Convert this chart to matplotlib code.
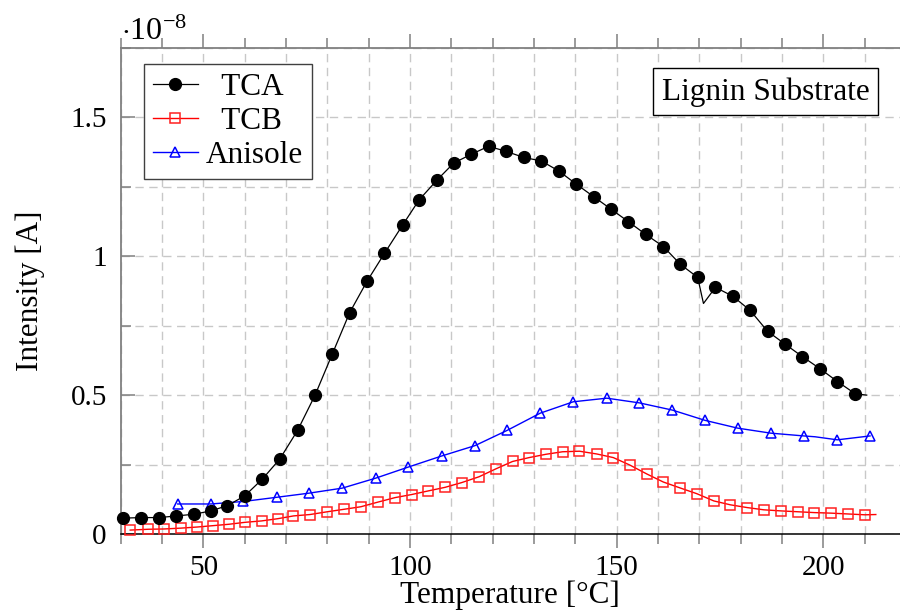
import numpy as np
import matplotlib
matplotlib.use("Agg")
import matplotlib.pyplot as plt
from matplotlib.ticker import MultipleLocator, FuncFormatter

plt.rcParams["font.family"] = ["Liberation Serif", "DejaVu Serif"]
plt.rcParams["mathtext.fontset"] = "custom"
plt.rcParams["mathtext.rm"] = "Liberation Serif"
plt.rcParams["mathtext.it"] = "Liberation Serif:italic"
plt.rcParams["font.size"] = 21

SCALE = 1e-8  # values below are in units of 1e-8 A

# TCA: marked readings, plus a few line-only readings
tca_x = [30.6, 34.9, 39.3, 43.5, 47.7, 51.8, 55.8, 60.0, 64.3, 68.5,
         72.8, 77.0, 81.2, 85.4, 89.6, 93.8, 98.2, 102.2, 106.5, 110.6,
         114.8, 119.0, 123.2, 127.5, 131.8, 136.0, 140.2, 144.4, 148.6, 152.8,
         157.0, 161.3, 165.4, 169.6, 173.9, 178.1, 182.3, 186.5, 190.7, 194.9,
         199.2, 203.4, 207.7]
tca_y = [0.057, 0.059, 0.059, 0.065, 0.071, 0.083, 0.102, 0.137, 0.198, 0.270,
         0.373, 0.499, 0.648, 0.797, 0.910, 1.010, 1.112, 1.203, 1.274, 1.336,
         1.367, 1.396, 1.378, 1.356, 1.343, 1.307, 1.260, 1.215, 1.170, 1.125,
         1.079, 1.035, 0.971, 0.924, 0.888, 0.856, 0.805, 0.730, 0.684, 0.639,
         0.595, 0.549, 0.505]
tca_line_x = [171.0, 210.5]
tca_line_y = [0.830, 0.500]

tcb_x = [32.3, 36.7, 40.5, 44.5, 48.5, 52.4, 56.2, 60.1, 64.1, 68.0,
         71.8, 75.8, 80.0, 84.1, 88.1, 92.3, 96.4, 100.4, 104.4, 108.5,
         112.5, 116.7, 120.7, 124.8, 128.8, 132.9, 136.9, 141.0, 145.2, 149.2,
         153.2, 157.3, 161.3, 165.3, 169.4, 173.5, 177.5, 181.6, 185.6, 189.8,
         193.8, 197.8, 201.9, 206.0, 210.1]
tcb_y = [0.014, 0.017, 0.018, 0.021, 0.025, 0.030, 0.035, 0.042, 0.047, 0.055,
         0.065, 0.070, 0.080, 0.089, 0.098, 0.115, 0.131, 0.142, 0.155, 0.168,
         0.185, 0.206, 0.234, 0.261, 0.275, 0.287, 0.296, 0.298, 0.288, 0.275,
         0.248, 0.216, 0.187, 0.166, 0.145, 0.119, 0.105, 0.095, 0.087, 0.083,
         0.080, 0.077, 0.075, 0.072, 0.069]
tcb_line_x = [212.7]
tcb_line_y = [0.070]

ani_x = [43.8, 51.8, 59.7, 67.7, 75.6, 83.6, 91.7, 99.6, 107.7, 115.7,
         123.5, 131.5, 139.5, 147.6, 155.5, 163.5, 171.4, 179.3, 187.3, 195.3,
         203.4, 211.3]
ani_y = [0.108, 0.108, 0.117, 0.132, 0.147, 0.165, 0.201, 0.241, 0.281, 0.318,
         0.373, 0.435, 0.476, 0.489, 0.472, 0.446, 0.409, 0.381, 0.363, 0.353,
         0.339, 0.353]
ani_line_x = [198.0]
ani_line_y = [0.350]


def merged(mx, my, lx, ly):
    """Join marked and line-only readings; return x, y and marker indices."""
    x = np.concatenate([mx, lx])
    y = np.concatenate([my, ly])
    marked = np.concatenate([np.ones(len(mx), bool), np.zeros(len(lx), bool)])
    order = np.argsort(x)
    return x[order], y[order] * SCALE, list(np.flatnonzero(marked[order]))


fig = plt.figure(figsize=(9, 6.12), dpi=100)
ax = fig.add_axes([0.1341, 0.1275, 0.8659, 0.7941])

grid_kw = dict(color="#c8c8c8", lw=1.0, ls=(0, (6, 4)))
ax.grid(True, which="both", **grid_kw)
ax.set_axisbelow(True)

x, y, me = merged(tca_x, tca_y, tca_line_x, tca_line_y)
ax.plot(x, y, color="black", lw=0.9, marker="o", ms=8.5, mfc="black",
        mec="black", markevery=me, label="  TCA", clip_on=False, zorder=5)
x, y, me = merged(tcb_x, tcb_y, tcb_line_x, tcb_line_y)
ax.plot(x, y, color="#ff0000", lw=1.0, marker="s", ms=7.5, mfc="none",
        mec="#ff2020", mew=1.1, markevery=me, label="  TCB", clip_on=False, zorder=4)
x, y, me = merged(ani_x, ani_y, ani_line_x, ani_line_y)
ax.plot(x, y, color="#0000ff", lw=1.0, marker="^", ms=7, mfc="none",
        mec="#0000ff", mew=1.1, markevery=me, label="Anisole", clip_on=False, zorder=3)

ax.set_xlim(30, 218.55)
ax.set_ylim(0, 1.75 * SCALE)

ax.xaxis.set_major_locator(MultipleLocator(50))
ax.xaxis.set_minor_locator(MultipleLocator(10))
ax.yaxis.set_major_locator(MultipleLocator(0.5 * SCALE))
ax.yaxis.set_minor_locator(MultipleLocator(0.25 * SCALE))
ax.yaxis.set_major_formatter(FuncFormatter(lambda v, p: f"{v / SCALE:g}"))

ax.tick_params(axis="x", which="both", direction="out", colors="#808080",
               labelcolor="black", top=True, labelsize=21, pad=5)
ax.tick_params(axis="x", which="major", length=10, width=1.1)
ax.tick_params(axis="x", which="minor", length=7, width=1.1)
ax.tick_params(axis="y", which="both", direction="in", colors="#808080",
               labelcolor="black", labelsize=21, pad=10)
ax.tick_params(axis="y", which="major", length=10, width=1.1)
ax.tick_params(axis="y", which="minor", length=7, width=1.1)

ax.spines["right"].set_visible(False)
ax.spines["left"].set_color("#808080")
ax.spines["top"].set_color("#808080")
ax.spines["left"].set_linewidth(1.3)
ax.spines["top"].set_linewidth(1.3)
ax.spines["bottom"].set_color("black")
ax.spines["bottom"].set_linewidth(1.1)

ax.set_xlabel("Temperature [°C]", fontsize=22.5, labelpad=0)
ax.set_ylabel("Intensity [A]", fontsize=22.5, labelpad=18)
ax.text(0.0, 1.017, r"$\cdot 10^{-8}$", transform=ax.transAxes,
        ha="left", va="baseline", fontsize=23)

leg = ax.legend(loc="upper left", bbox_to_anchor=(0.03, 0.967), fontsize=22.5,
                frameon=True, fancybox=False, framealpha=1, edgecolor="#404040",
                handlelength=1.45, handletextpad=0.25, labelspacing=0.17,
                borderpad=0.28, borderaxespad=0)
leg.get_frame().set_linewidth(1.0)

ax.text(0.961, 0.94, "Lignin Substrate", transform=ax.transAxes, ha="right",
        va="top", fontsize=22.5,
        bbox=dict(boxstyle="square,pad=0.28", fc="white", ec="black", lw=1.0))

fig.savefig("out.png", dpi=100)
